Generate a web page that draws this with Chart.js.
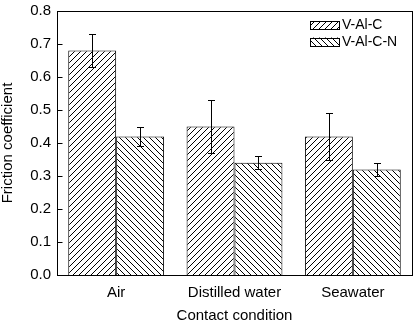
<!DOCTYPE html>
<html>
<head>
<meta charset="utf-8">
<title>Friction coefficient</title>
<script src="https://cdn.jsdelivr.net/npm/chart.js@4/dist/chart.umd.min.js"></script>
<style>
  html, body { margin: 0; padding: 0; background: #fff; }
  #wrap { width: 419px; height: 323px; position: relative; }
</style>
</head>
<body>
<div id="wrap"><canvas id="frictionChart"></canvas></div>
<script>
// ------------------------------------------------------------
// Friction coefficient by contact condition (V-Al-C vs V-Al-C-N)
// ------------------------------------------------------------

const categories = ["Air", "Distilled water", "Seawater"];

const vAlC = [0.68, 0.45, 0.42];
const vAlCErr = [0.05, 0.08, 0.07];

const vAlCN = [0.42, 0.34, 0.32];
const vAlCNErr = [0.03, 0.02, 0.02];

const yTicks = [0.0, 0.1, 0.2, 0.3, 0.4, 0.5, 0.6, 0.7, 0.8];

const FONT = "'Liberation Sans', Arial, sans-serif";

// diagonal hatch pattern, "/" or "\"
function makeHatch(dir) {
    const size = 6;
    const c = document.createElement("canvas");
    c.width = size;
    c.height = size;
    const g = c.getContext("2d");
    g.fillStyle = "#fff";
    g.fillRect(0, 0, size, size);
    g.strokeStyle = "#000";
    g.lineWidth = 1;
    g.beginPath();
    if (dir === "/") {
        g.moveTo(-1, size + 1); g.lineTo(size + 1, -1);
        g.moveTo(-1, 1); g.lineTo(1, -1);
        g.moveTo(size - 1, size + 1); g.lineTo(size + 1, size - 1);
    } else {
        g.moveTo(-1, -1); g.lineTo(size + 1, size + 1);
        g.moveTo(size - 1, -1); g.lineTo(size + 1, 1);
        g.moveTo(-1, size - 1); g.lineTo(1, size + 1);
    }
    g.stroke();
    return g.createPattern(c, "repeat");
}

const errors = [vAlCErr, vAlCNErr];

// error bars, inward ticks, frame box and legend
const decorations = {
    id: "decorations",
    afterDatasetsDraw(chart) {
        const ctx = chart.ctx;
        const y = chart.scales.y;
        ctx.save();
        ctx.strokeStyle = "#000";
        ctx.lineWidth = 1;
        chart.data.datasets.forEach((ds, i) => {
            const meta = chart.getDatasetMeta(i);
            meta.data.forEach((bar, j) => {
                const x = Math.round(bar.x) + 0.5;
                const top = Math.round(y.getPixelForValue(ds.data[j] + errors[i][j])) + 0.5;
                const bot = Math.round(y.getPixelForValue(ds.data[j] - errors[i][j])) + 0.5;
                ctx.beginPath();
                ctx.moveTo(x, top); ctx.lineTo(x, bot);
                ctx.moveTo(x - 3.5, top); ctx.lineTo(x + 3.5, top);
                ctx.moveTo(x - 3.5, bot); ctx.lineTo(x + 3.5, bot);
                ctx.stroke();
            });
        });
        ctx.restore();
    },
    afterDraw(chart) {
        const ctx = chart.ctx;
        const a = chart.chartArea;
        const y = chart.scales.y;
        const l = Math.round(a.left) + 0.5;
        const r = Math.round(a.right) + 0.5;
        const t = Math.round(a.top) + 0.5;
        const b = Math.round(a.bottom) + 0.5;
        ctx.save();
        ctx.strokeStyle = "#000";
        ctx.lineWidth = 1;
        ctx.strokeRect(l, t, r - l, b - t);

        // y ticks pointing into the plot
        ctx.beginPath();
        yTicks.forEach(v => {
            const py = Math.round(y.getPixelForValue(v)) + 0.5;
            ctx.moveTo(l, py);
            ctx.lineTo(l + 5, py);
        });
        ctx.stroke();

        // legend in the upper right corner
        const lx = Math.round(a.right) - 102;
        ctx.font = "14px " + FONT;
        ctx.textBaseline = "middle";
        chart.data.datasets.forEach((ds, i) => {
            const by = Math.round(a.top) + 10 + i * 16.5;
            ctx.fillStyle = ds.backgroundColor;
            ctx.fillRect(lx, by, 30, 8.5);
            ctx.strokeRect(lx + 0.5, Math.round(by) + 0.5, 29, 8);
            ctx.fillStyle = "#000";
            ctx.fillText(ds.label, lx + 32, by + 4.5);
        });
        ctx.restore();
    }
};

const ctx = document.getElementById("frictionChart").getContext("2d");

new Chart(ctx, {
    type: "bar",
    data: {
        labels: categories,
        datasets: [
            {
                label: "V-Al-C",
                data: vAlC,
                backgroundColor: makeHatch("/"),
                borderColor: "#000",
                borderWidth: 1
            },
            {
                label: "V-Al-C-N",
                data: vAlCN,
                backgroundColor: makeHatch("\\"),
                borderColor: "#000",
                borderWidth: 1
            }
        ]
    },
    options: {
        responsive: true,
        maintainAspectRatio: false,
        animation: false,
        events: [],
        layout: {
            padding: { top: 11, right: 7, left: 0, bottom: 0 }
        },
        datasets: {
            bar: {
                barPercentage: 1.0,
                categoryPercentage: 0.81
            }
        },
        scales: {
            x: {
                grid: { display: false, drawTicks: false },
                border: { display: false },
                afterFit(scale) { scale.height = 48; },
                ticks: {
                    color: "#000",
                    padding: 10,
                    maxRotation: 0,
                    font: { family: FONT, size: 15, lineHeight: 1 }
                },
                title: {
                    display: true,
                    text: "Contact condition",
                    color: "#000",
                    padding: { top: 0, bottom: 0 },
                    font: { family: FONT, size: 15, lineHeight: 1 }
                }
            },
            y: {
                min: 0,
                max: 0.8,
                grid: { display: false, drawTicks: false },
                border: { display: false },
                afterFit(scale) {
                    scale.width = 57;
                    scale.paddingTop = 0;
                    scale.paddingBottom = 0;
                },
                afterBuildTicks(scale) {
                    scale.ticks = yTicks.map(v => ({ value: v }));
                },
                ticks: {
                    color: "#000",
                    padding: 6,
                    font: { family: FONT, size: 15 },
                    callback: v => Number(v).toFixed(1)
                },
                title: {
                    display: true,
                    text: "Friction coefficient",
                    color: "#000",
                    padding: { top: 0, bottom: 0 },
                    font: { family: FONT, size: 15, lineHeight: 1 }
                }
            }
        },
        plugins: {
            legend: { display: false },
            tooltip: { enabled: false }
        }
    },
    plugins: [decorations]
});
</script>
</body>
</html>
